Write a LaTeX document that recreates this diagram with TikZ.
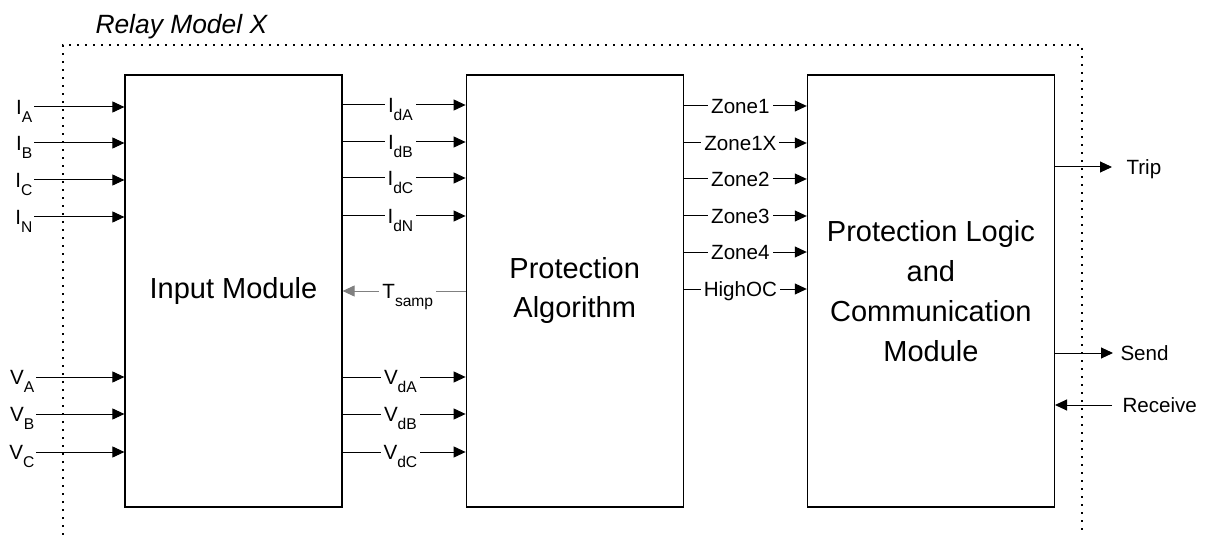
\documentclass[tikz,border=0pt]{standalone}
\usepackage{fontspec}
\setmainfont{Liberation Sans}
\usetikzlibrary{positioning,arrows.meta}

\newcommand{\lowidx}[1]{\smash{\raisebox{-4pt}{\fontsize{7.8}{8}\selectfont #1}}}

\tikzset{
  blockbox/.style={draw, line width=0.6pt, minimum width=108.5pt, minimum height=216pt,
    align=center, inner sep=0pt, font=\fontsize{14.5}{19.5}\selectfont},
  sig/.style={font=\fontsize{10.3}{12}\selectfont, inner sep=0.6pt, text depth=0pt},
  midlbl/.style={sig, fill=white, inner sep=1.5pt, pos=0.47},
  relayframe/.style={line width=1pt, dash pattern=on 1pt off 3pt},
}

\begin{document}
\begin{tikzpicture}[x=0.5pt,y=-0.5pt,>={Triangle[length=6pt,width=5.5pt]},line width=0.5pt]
  \useasboundingbox (0,0) rectangle (1206,535);
  % blocks
  \node[blockbox] (inp) at (233.5,291) {Input Module};
  \node[blockbox] (alg) [right=61.5pt of inp] {Protection\\Algorithm};
  \node[blockbox, minimum width=123.5pt, font=\fontsize{14.5}{20}\selectfont] (plc) [right=61.5pt of alg]
    {Protection Logic\\and\\Communication\\Module};

  % relay boundary
  \draw[relayframe] (63,535) -- (63,45) -- (1082,45) -- (1082,535);
  \node[anchor=west, inner sep=0pt, font=\fontsize{13.2}{15}\selectfont\itshape] (title) at (95,27) {Relay Model X};

  % analogue inputs
  \foreach \y/\s in {107/A,143/B,180/C,217/N}{
    \node[sig, anchor=east] (i\s) at (34,\y) {I\lowidx{\s}};
    \draw[->] (i\s) -- (inp.west |- i\s);
  }
  \foreach \y/\s in {377/A,414/B,452/C}{
    \node[sig, anchor=east] (v\s) at (36,\y) {V\lowidx{\s}};
    \draw[->] (v\s) -- (inp.west |- v\s);
  }

  % sampled signals
  \foreach \y/\s in {105/A,142/B,178/C,216/N}
    \draw[->] (inp.east |- 0,\y) -- node[midlbl] {I\lowidx{d\s}} (alg.west |- 0,\y);
  \foreach \y/\s in {377/A,414/B,452/C}
    \draw[->] (inp.east |- 0,\y) -- node[midlbl] {V\lowidx{d\s}} (alg.west |- 0,\y);
  \draw[->, gray] (alg.west |- 0,291) -- node[midlbl, text=black] {T\lowidx{samp}} (inp.east |- 0,291);

  % zone flags
  \foreach \y/\z in {106/Zone1,143/Zone1X,179/Zone2,216/Zone3,252/Zone4,289/HighOC}
    \draw[->] (alg.east |- 0,\y) -- node[midlbl, pos=0.46] {\z} (plc.west |- 0,\y);

  % relay outputs
  \node[sig, anchor=west, inner sep=0pt] (trip) at (1126,167) {Trip};
  \node[sig, anchor=west, inner sep=0pt] (send) at (1120,353) {Send};
  \node[sig, anchor=west, inner sep=0pt] (recv) at (1122,405) {Receive};
  \draw[->] (plc.east |- trip) -- ([xshift=-7pt]trip.west);
  \draw[->] (plc.east |- send) -- ([xshift=-3.5pt]send.west);
  \draw[->] ([xshift=-5pt]recv.west) -- (plc.east |- recv);
\end{tikzpicture}
\end{document}
